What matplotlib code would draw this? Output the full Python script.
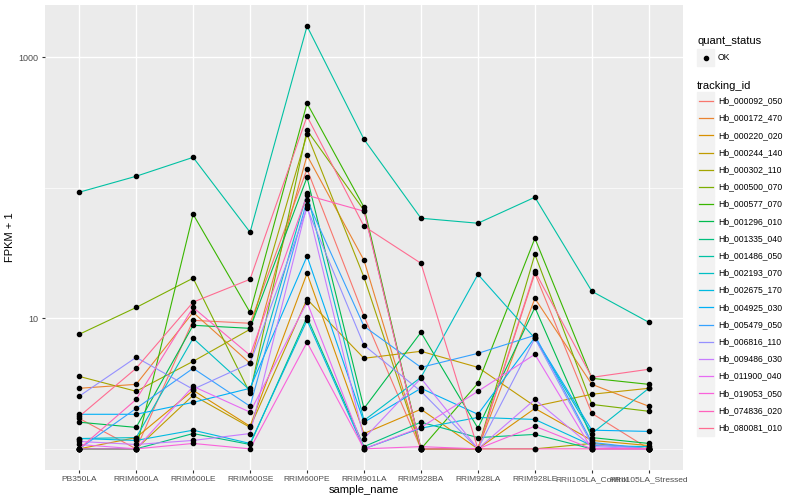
import matplotlib
matplotlib.use('Agg')
import matplotlib.pyplot as plt
from matplotlib.patches import Rectangle
from matplotlib.lines import Line2D
from matplotlib.ticker import FixedLocator, NullFormatter

plt.rcParams['font.family'] = ['Liberation Sans', 'DejaVu Sans']

# x categories
samples = ['PB350LA', 'RRIM600LA', 'RRIM600LE', 'RRIM600SE', 'RRIM600PE',
           'RRIM901LA', 'RRIM928BA', 'RRIM928LA', 'RRIM928LE',
           'RRII105LA_Control', 'RRII105LA_Stressed']

tracking_ids = ['Hb_000092_050', 'Hb_000172_470', 'Hb_000220_020', 'Hb_000244_140',
                'Hb_000302_110', 'Hb_000500_070', 'Hb_000577_070', 'Hb_001296_010',
                'Hb_001335_040', 'Hb_001486_050', 'Hb_002193_070', 'Hb_002675_170',
                'Hb_004925_030', 'Hb_005479_050', 'Hb_006816_110', 'Hb_009486_030',
                'Hb_011900_040', 'Hb_019053_050', 'Hb_074836_020', 'Hb_080081_010']

# ggplot hue palette, 20 levels
colors = ['#F8766D', '#EA8331', '#D89000', '#C09B00', '#A3A500', '#7CAE00', '#39B600',
          '#00BB4E', '#00BF7D', '#00C1A3', '#00BFC4', '#00BAE0', '#00B0F6', '#35A2FF',
          '#9590FF', '#C77CFF', '#E76BF3', '#FA62DB', '#FF62BC', '#FF6C91']

# FPKM + 1, one row per tracking id, one column per sample
fpkm_plus_one = [
    [1.71, 1.0, 9.65, 9.16, 139, 10.4, 1.0, 1.0, 22.1, 1.87, 1.0],
    [2.91, 3.12, 11.1, 4.52, 177, 27.8, 1.0, 1.0, 14.2, 3.12, 2.12],
    [1.0, 1.22, 2.81, 1.49, 22.1, 1.31, 2.01, 1.0, 2.04, 1.16, 1.06],
    [1.0, 1.0, 2.57, 1.46, 14.0, 4.94, 5.59, 4.21, 2.12, 2.62, 2.91],
    [3.59, 2.76, 4.68, 8.24, 257, 20.6, 1.0, 1.0, 1.0, 1.10, 1.0],
    [7.54, 12.1, 20.3, 2.66, 276, 67.2, 1.0, 1.0, 30.9, 2.19, 1.94],
    [1.0, 1.0, 62.7, 11.1, 444, 70.9, 1.0, 3.18, 41.0, 3.47, 3.12],
    [1.60, 1.46, 8.84, 8.38, 120, 2.04, 7.81, 1.44, 12.1, 1.22, 1.10],
    [1.0, 1.0, 1.31, 1.08, 10.2, 1.04, 1.60, 1.22, 1.29, 1.0, 1.0],
    [92.4, 122.5, 171, 45.6, 1728, 235, 58.4, 53.5, 84.6, 16.1, 9.32],
    [1.20, 1.22, 7.03, 2.81, 90.8, 1.65, 3.53, 21.7, 7.03, 1.31, 2.91],
    [1.20, 1.16, 1.39, 1.10, 9.65, 1.0, 1.44, 1.74, 1.68, 1.06, 1.04],
    [1.84, 1.84, 2.27, 2.91, 29.9, 1.60, 2.91, 1.84, 7.15, 1.39, 1.36],
    [1.0, 2.04, 4.14, 2.12, 80.2, 8.68, 4.21, 5.39, 7.41, 1.12, 1.0],
    [2.53, 5.02, 2.86, 4.52, 69.7, 6.21, 2.76, 1.0, 7.03, 1.08, 1.0],
    [1.14, 1.08, 1.16, 1.31, 73.4, 1.20, 3.47, 1.0, 2.39, 1.04, 1.0],
    [1.08, 1.0, 3.01, 1.91, 13.3, 1.0, 1.46, 2.76, 5.30, 1.0, 1.0],
    [1.0, 1.0, 1.10, 1.0, 6.55, 1.0, 1.04, 1.0, 1.49, 1.0, 1.0],
    [1.0, 2.39, 12.1, 5.21, 87.6, 66.1, 1.0, 1.0, 1.0, 1.0, 1.0],
    [1.77, 4.14, 13.3, 19.9, 353, 50.7, 26.4, 1.0, 22.9, 3.53, 4.07],
]

y_major = [10, 1000]
y_minor = [1, 100]

fig = plt.figure(figsize=(8, 5), dpi=100)
ax = fig.add_axes([0.05625, 0.06, 0.7975, 0.93])
ax.set_facecolor('#EBEBEB')

xs = list(range(len(samples)))
for vals, col in zip(fpkm_plus_one, colors):
    ax.plot(xs, vals, color=col, lw=0.8, zorder=3)
for vals in fpkm_plus_one:
    ax.plot(xs, vals, ls='none', marker='o', ms=3.0, color='black', zorder=4)

ax.set_yscale('log')
ax.set_ylim(10 ** -0.162, 10 ** 3.40)
ax.set_xlim(-0.6, len(samples) - 0.4)

ax.yaxis.set_major_locator(FixedLocator(y_major))
ax.yaxis.set_minor_locator(FixedLocator(y_minor))
ax.yaxis.set_minor_formatter(NullFormatter())
ax.set_yticklabels([str(v) for v in y_major])
ax.set_xticks(xs)
ax.set_xticklabels(samples)

ax.grid(True, which='major', color='white', lw=1.0, zorder=1)
ax.grid(True, which='minor', axis='y', color='white', lw=0.5, zorder=1)
ax.set_axisbelow(True)
for s in ax.spines.values():
    s.set_visible(False)
ax.tick_params(axis='both', which='major', length=2.5, color='#333333',
               labelsize=6, labelcolor='#4D4D4D', pad=2)
ax.tick_params(axis='y', which='major', labelsize=6.5)
ax.tick_params(axis='y', which='minor', length=0)

ax.set_xlabel('sample_name', fontsize=8, labelpad=1)
ax.set_ylabel('FPKM + 1', fontsize=8, labelpad=3)

# legend drawn by hand, ggplot style
def fx(px):
    return px / 800.0

def fy(py):
    return 1 - py / 500.0

fig.text(fx(697), fy(41), 'quant_status', fontsize=8, va='center', ha='left')
fig.patches.append(Rectangle((fx(697), fy(66)), fx(17), 17 / 500.0,
                             transform=fig.transFigure, color='#F2F2F2', zorder=1))
fig.lines.append(Line2D([fx(705.5)], [fy(57.5)], marker='o', ms=3.0, color='black',
                        transform=fig.transFigure))
fig.text(fx(718), fy(57.5), 'OK', fontsize=6.2, va='center', ha='left')

fig.text(fx(697), fy(86), 'tracking_id', fontsize=8, va='center', ha='left')
for i, (tid, col) in enumerate(zip(tracking_ids, colors)):
    yc = 101 + i * 17.2
    fig.patches.append(Rectangle((fx(697), fy(yc + 8.5)), fx(17), 17 / 500.0,
                                 transform=fig.transFigure, color='#F2F2F2', zorder=1))
    fig.lines.append(Line2D([fx(698.5), fx(712.5)], [fy(yc), fy(yc)], color=col, lw=0.9,
                            transform=fig.transFigure))
    fig.text(fx(718), fy(yc), tid, fontsize=6.2, va='center', ha='left')

fig.savefig('out.png', dpi=100)
